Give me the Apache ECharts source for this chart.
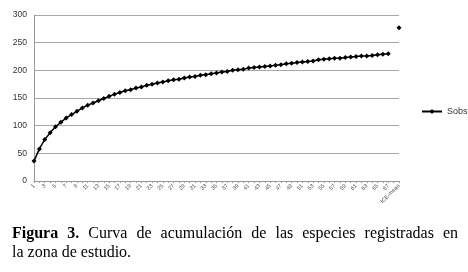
<!DOCTYPE html>
<html>
<head>
<meta charset="utf-8">
<script src="https://cdn.jsdelivr.net/npm/echarts@6/dist/echarts.min.js"></script>
<style>
html,body{margin:0;padding:0;background:#fff;}
#c{position:absolute;left:0;top:0;width:468px;height:272px;}
.cap{position:absolute;left:12px;width:446px;font-family:"Liberation Serif",serif;font-size:16px;line-height:19px;color:#000;white-space:nowrap;}
#cap1{top:223px;text-align:justify;text-align-last:justify;white-space:normal;}
#cap2{top:242px;}
</style>
</head>
<body>
<div id="c"></div>
<div id="cap1" class="cap"><b>Figura 3.</b> Curva de acumulación de las especies registradas en</div>
<div id="cap2" class="cap">la zona de estudio.</div>
<script>
const categories = [];
for (let i = 1; i <= 68; i++) categories.push(String(i));
categories.push('ICE-mean');

const sobs = [36,58,75,87,98,106,114,120,126,132,137,141,145,149,153,157,160,163,165,168,
170,173,175,177,179,181,183,184,186,188,189,191,192,194,195,197,198,200,201,202,
204,205,206,207,208,209,210,212,213,214,215,216,217,219,220,221,222,222,223,224,
225,226,226,227,228,229,230];
const gapValue = null;
const iceMean = 277;
const seriesData = sobs.concat([gapValue, iceMean]);

const yTicks = {min:0, max:300, interval:50};

const chart = echarts.init(document.getElementById('c'));
chart.setOption({
  animation:false,
  grid:{left:34, right:69, top:15, bottom:91},
  legend:{
    data:['Sobs'], left:416, top:102, itemWidth:20, itemHeight:6, itemGap:2,
    textStyle:{fontSize:9, color:'#333', fontFamily:'Liberation Sans'}
  },
  xAxis:{
    type:'category', data:categories, boundaryGap:false,
    axisLine:{lineStyle:{color:'#999'}},
    axisTick:{show:true, interval:0, length:2, lineStyle:{color:'#999'}},
    axisLabel:{interval:1, rotate:45, fontSize:5.5, color:'#444', margin:4, fontFamily:'Liberation Sans'},
    splitLine:{show:false}
  },
  yAxis:{
    type:'value', min:yTicks.min, max:yTicks.max, interval:yTicks.interval,
    axisLine:{show:true, lineStyle:{color:'#999'}},
    axisTick:{show:false},
    axisLabel:{fontSize:8.5, color:'#333', margin:7, fontFamily:'Liberation Sans'},
    splitLine:{lineStyle:{color:'#a8a8a8', width:1}}
  },
  series:[{
    name:'Sobs', type:'line', data:seriesData, connectNulls:false,
    symbol:'diamond', symbolSize:5, showAllSymbol:true,
    lineStyle:{color:'#000', width:1.5},
    itemStyle:{color:'#000'}
  }]
});
</script>
</body>
</html>
